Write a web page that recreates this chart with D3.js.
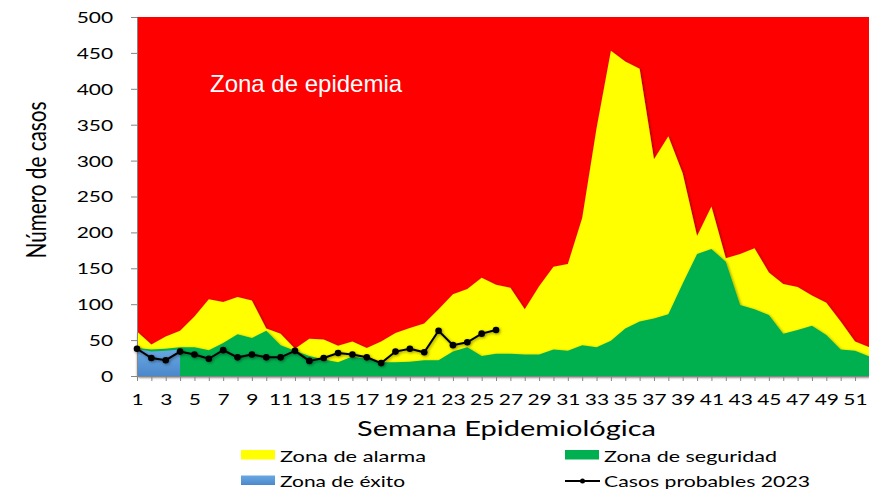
<!DOCTYPE html>
<html>
<head>
<meta charset="utf-8">
<script src="https://cdn.jsdelivr.net/npm/d3@7/dist/d3.min.js"></script>
<style>
  html, body { margin: 0; padding: 0; background: #fff; }
  svg { display: block; }
</style>
</head>
<body>
<svg id="chart" width="869" height="489"></svg>
<script>
// ---- Data ----
const weeks = d3.range(1, 53);
const epidemia = weeks.map(() => 500);
const alarma = [62, 44, 55, 63, 83, 107, 103, 110, 105, 66, 59, 38, 52, 51, 42, 48, 39, 48, 60, 67,
  73, 93, 114, 121, 137, 127, 123, 93, 125, 152, 156, 220, 345, 453, 438, 428, 302, 334, 282, 195,
  236, 164, 170, 178, 144, 128, 124, 112, 102, 76, 48, 40];
const seguridad = [39, 37, 38, 40, 40, 36, 46, 58, 53, 63, 43, 35, 28, 23, 19, 27, 24, 19, 19, 20,
  22, 22, 34, 40, 28, 31, 31, 30, 30, 37, 35, 43, 40, 49, 66, 76, 80, 86, 129, 170,
  177, 159, 99, 93, 85, 59, 64, 70, 57, 37, 35, 27];
const exitoWeeks = [1, 2, 3, 4];
const exito = [38, 34, 35, 37];
const casos2023 = [38, 25, 22, 34, 30, 24, 36, 26, 30, 26, 26, 35, 21, 25, 32, 30, 26, 18, 34, 38,
  33, 63, 43, 47, 59, 64];
const yTicks = [0, 50, 100, 150, 200, 250, 300, 350, 400, 450, 500];
const legendItems = ["Zona de alarma", "Zona de seguridad", "Zona de éxito", "Casos probables 2023"];

// ---- Layout ----
const svg = d3.select("#chart");
const x = d3.scaleLinear().domain([1, 52]).range([137, 869.4]);
const y = d3.scaleLinear().domain([0, 500]).range([376, 17]);
const calibri = "Lato, 'Open Sans', sans-serif";

const defs = svg.append("defs");
const f = defs.append("filter").attr("id", "shadow").attr("x", "-5%").attr("y", "-5%").attr("width", "110%").attr("height", "110%");
f.append("feDropShadow").attr("dx", 1).attr("dy", 1).attr("stdDeviation", 1.4)
  .attr("flood-color", "#000").attr("flood-opacity", 0.45);
const g1 = defs.append("linearGradient").attr("id", "blueGrad").attr("x1", 0).attr("y1", 0).attr("x2", 0).attr("y2", 1);
g1.append("stop").attr("offset", "0%").attr("stop-color", "#6aa8e2");
g1.append("stop").attr("offset", "100%").attr("stop-color", "#4a88cc");

function areaOf(xs, vals) {
  return d3.area().x((d, i) => x(xs[i])).y0(y(0)).y1(d => y(d))(vals);
}

svg.append("path").attr("d", areaOf(weeks, epidemia)).attr("fill", "#ff0000");
svg.append("path").attr("d", areaOf(weeks, alarma)).attr("fill", "#ffff00").attr("filter", "url(#shadow)");
svg.append("path").attr("d", areaOf(weeks, seguridad)).attr("fill", "#00b050").attr("filter", "url(#shadow)");
svg.append("path").attr("d", areaOf(exitoWeeks, exito)).attr("fill", "url(#blueGrad)");

// Label inside
svg.append("text").attr("x", 210).attr("y", 92)
  .attr("font-family", "'Liberation Sans', Arial, sans-serif").attr("font-size", 24)
  .attr("fill", "#fff").text("Zona de epidemia");

// ---- Axes ----
const yAxis = svg.append("g").attr("transform", "translate(137,0)")
  .call(d3.axisLeft(y).tickValues(yTicks).tickSize(6).tickPadding(0).tickSizeOuter(0));
yAxis.select(".domain").attr("stroke", "#868686");
yAxis.selectAll(".tick line").attr("stroke", "#868686");
yAxis.selectAll(".tick text")
  .attr("x", -17).attr("dy", "0.36em")
  .attr("transform", "scale(1.4,1)")
  .attr("font-family", calibri).attr("font-size", 15).attr("fill", "#000");

const xAxis = svg.append("g").attr("transform", "translate(0,376)")
  .call(d3.axisBottom(x).tickValues(weeks).tickSize(5).tickSizeOuter(0)
    .tickFormat(d => d % 2 === 1 ? String(d) : ""));
xAxis.select(".domain").attr("stroke", "#868686");
xAxis.selectAll(".tick line").attr("stroke", "#868686");
xAxis.selectAll(".tick text")
  .attr("y", 29).attr("dy", "0")
  .attr("transform", "scale(1.4,1)")
  .attr("font-family", calibri).attr("font-size", 15).attr("fill", "#000");

// ---- Casos line ----
const casosWeeks = weeks.slice(0, casos2023.length);
const line = d3.line().x((d, i) => x(casosWeeks[i])).y(d => y(d));
const lineG = svg.append("g").attr("filter", "url(#shadow)");
lineG.append("path").attr("d", line(casos2023)).attr("fill", "none")
  .attr("stroke", "#000").attr("stroke-width", 2);
lineG.selectAll("circle").data(casos2023).join("circle")
  .attr("cx", (d, i) => x(casosWeeks[i])).attr("cy", d => y(d)).attr("r", 3.3).attr("fill", "#000");

// ---- Titles ----
svg.append("text")
  .attr("transform", "translate(45.5,180) rotate(-90)")
  .attr("text-anchor", "middle")
  .attr("font-family", calibri).attr("font-size", 26)
  .attr("textLength", 157).attr("lengthAdjust", "spacingAndGlyphs")
  .attr("fill", "#000").text("Número de casos");

svg.append("text").attr("x", 357).attr("y", 436)
  .attr("font-family", calibri).attr("font-size", 22)
  .attr("textLength", 299).attr("lengthAdjust", "spacingAndGlyphs")
  .attr("fill", "#000").text("Semana Epidemiológica");

// ---- Legend ----
const legendPos = [
  { x: 241, y: 461.5, w: 146, type: "rect", color: "#ffff00" },
  { x: 565, y: 461.5, w: 173, type: "rect", color: "#00b050" },
  { x: 241, y: 487, w: 125, type: "rect", color: "url(#blueGrad)" },
  { x: 565, y: 487, w: 206, type: "line", color: "#000" }
];
legendItems.forEach((name, i) => {
  const p = legendPos[i];
  if (p.type === "rect") {
    svg.append("rect").attr("x", p.x).attr("y", p.y - 11.5).attr("width", 34).attr("height", 9.5)
      .attr("fill", p.color);
  } else {
    svg.append("line").attr("x1", p.x).attr("x2", p.x + 35).attr("y1", p.y - 6).attr("y2", p.y - 6)
      .attr("stroke", p.color).attr("stroke-width", 2);
    svg.append("circle").attr("cx", p.x + 17.5).attr("cy", p.y - 6).attr("r", 2.5).attr("fill", p.color);
  }
  svg.append("text").attr("x", p.x + 39).attr("y", p.y)
    .attr("font-family", calibri).attr("font-size", 15)
    .attr("textLength", p.w).attr("lengthAdjust", "spacingAndGlyphs")
    .attr("fill", "#000").text(name);
});
</script>
</body>
</html>
